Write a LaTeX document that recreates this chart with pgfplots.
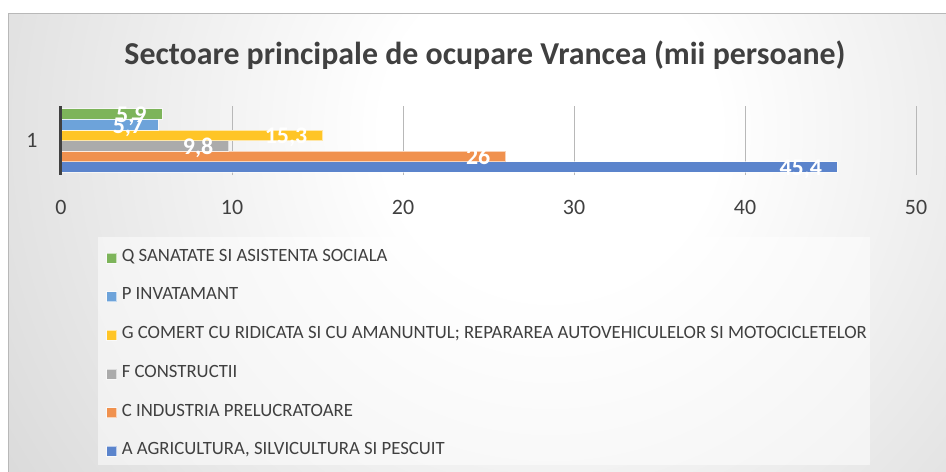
\documentclass[border=0pt]{standalone}
\usepackage{fontspec}
\setmainfont{Carlito}
\usepackage{pgfplots}
\pgfplotsset{compat=1.18}
\definecolor{cA}{HTML}{5B84CC}
\definecolor{cC}{HTML}{F0914E}
\definecolor{cF}{HTML}{ABABAB}
\definecolor{cG}{HTML}{FFC526}
\definecolor{cP}{HTML}{6DA3DA}
\definecolor{cQ}{HTML}{7DB45A}
\definecolor{txt}{HTML}{404040}
\pgfdeclareradialshading{bgshade}{\pgfpoint{0bp}{0bp}}{color(0bp)=(white); color(6bp)=(white); color(38bp)=(black!27); color(50bp)=(black!30)}
\begin{document}
\begin{tikzpicture}
\useasboundingbox (0,0) rectangle (946bp,-472bp);
\fill[white] (0,0) rectangle (946bp,-472bp);
\begin{scope}
\clip (8bp,-13bp) rectangle (946bp,-472bp);
\shade[shading=bgshade] (550bp,-130bp) circle (700bp);
\end{scope}
\draw[black!28, line width=1bp] (8.5bp,-472bp) -- (8.5bp,-13.5bp) -- (946bp,-13.5bp);
\fill[white, opacity=0.5] (98bp,-237bp) rectangle (870bp,-465bp);
\node[font=\bfseries\fontsize{32}{38}\selectfont, text=txt] at (485bp,-55bp) {Sectoare principale de ocupare Vrancea (mii persoane)};
\begin{axis}[
  at={(61bp,-175bp)}, anchor=south west,
  scale only axis, width=855bp, height=69bp,
  xmin=0, xmax=50, ymin=0.5, ymax=1.5,
  xbar, bar width=10.6bp,
  xtick={10,20,...,50}, ytick={1}, yticklabels={1},
  extra x ticks={0}, extra x tick style={grid=none},
  xmajorgrids, major grid style={draw=black!28, line width=0.75bp},
  major tick length=0pt, tick style={draw=none},
  axis line style={draw=none},
  tick label style={font=\fontsize{22}{26}\selectfont, text=txt},
  x tick label style={anchor=center, yshift=-32bp},
  y tick label style={anchor=center, xshift=-29bp},
  /pgf/number format/assume math mode=true,
  clip=false,
  nodes near coords={\pgfmathprintnumber[use comma,fixed,precision=1]{\pgfplotspointmeta}},
  every node near coord/.append style={font=\bfseries\fontsize{24}{28}\selectfont, text=white, anchor=base east, xshift=-15bp, yshift=-8.5bp, inner sep=0pt},
  reverse legend,
  legend cell align=left,
  legend style={at={(0.0433,-0.8986)}, anchor=north west, draw=none, fill=none,
    inner xsep=8bp, inner ysep=13bp, row sep=23.2bp,
    font=\fontsize{18.8}{22}\selectfont, text=txt,
    nodes={inner ysep=0pt, inner xsep=5bp, text height=11bp, text depth=4.5bp}},
  legend image code/.code={\fill[#1] (0bp,-5bp) rectangle (10bp,5bp);},
]
\addplot[fill=cA, draw=white, draw opacity=0.6, line width=0.6bp, bar shift=-26.5bp] coordinates {(45.4,1)};
\addlegendentry{A AGRICULTURA, SILVICULTURA SI PESCUIT}
\addplot[fill=cC, draw=white, draw opacity=0.6, line width=0.6bp, bar shift=-15.9bp] coordinates {(26,1)};
\addlegendentry{C INDUSTRIA PRELUCRATOARE}
\addplot[fill=cF, draw=white, draw opacity=0.6, line width=0.6bp, bar shift=-5.3bp] coordinates {(9.8,1)};
\addlegendentry{F CONSTRUCTII}
\addplot[fill=cG, draw=white, draw opacity=0.6, line width=0.6bp, bar shift=5.3bp] coordinates {(15.3,1)};
\addlegendentry{G COMERT CU RIDICATA SI CU AMANUNTUL; REPARAREA AUTOVEHICULELOR SI MOTOCICLETELOR}
\addplot[fill=cP, draw=white, draw opacity=0.6, line width=0.6bp, bar shift=15.9bp] coordinates {(5.7,1)};
\addlegendentry{P INVATAMANT}
\addplot[fill=cQ, draw=white, draw opacity=0.6, line width=0.6bp, bar shift=26.5bp] coordinates {(5.9,1)};
\addlegendentry{Q SANATATE SI ASISTENTA SOCIALA}
\fill[txt] ([xshift=-1.5bp]axis cs:0,0.5) rectangle ([xshift=1.5bp]axis cs:0,1.5);
\end{axis}
\end{tikzpicture}
\end{document}
